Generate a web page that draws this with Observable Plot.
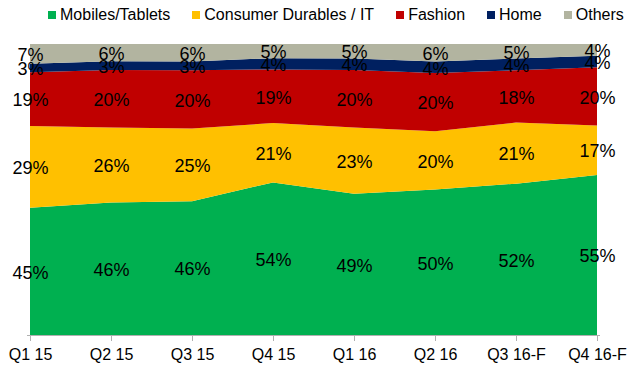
<!DOCTYPE html>
<html>
<head>
<meta charset="utf-8">
<script src="https://cdn.jsdelivr.net/npm/d3@7"></script>
<script src="https://cdn.jsdelivr.net/npm/@observablehq/plot@0.6"></script>
<style>
  body { margin: 0; background: #fff; font-family: "Liberation Sans", Arial, sans-serif; }
  #legend { height: 30px; display: flex; align-items: center; padding-left: 48px; gap: 22px; font-size: 16px; color: #000; white-space: nowrap; }
  #legend .item { display: flex; align-items: center; }
  #legend .sw { width: 8px; height: 8px; margin-right: 4px; }
</style>
</head>
<body>
<div id="legend"></div>
<div id="chart"></div>
<script>
const quarters = ["Q1 15", "Q2 15", "Q3 15", "Q4 15", "Q1 16", "Q2 16", "Q3 16-F", "Q4 16-F"];
const seriesNames = ["Mobiles/Tablets", "Consumer Durables / IT", "Fashion", "Home", "Others"];
const colors = ["#00B050", "#FFC000", "#C00000", "#002060", "#B2B4A0"];
const mobiles = [45, 46, 46, 54, 49, 50, 52, 55];
const durables = [29, 26, 25, 21, 23, 20, 21, 17];
const fashion = [19, 20, 20, 19, 20, 20, 18, 20];
const home = [3, 3, 3, 4, 4, 4, 4, 4];
const others = [7, 6, 6, 5, 5, 6, 5, 4];

const seriesValues = [mobiles, durables, fashion, home, others];
const data = [];
seriesNames.forEach((s, i) => {
  quarters.forEach((q, j) => data.push({ quarter: q, series: s, value: seriesValues[i][j] }));
});

// legend
const legend = document.getElementById("legend");
seriesNames.forEach((s, i) => {
  const item = document.createElement("div");
  item.className = "item";
  const sw = document.createElement("span");
  sw.className = "sw";
  sw.style.background = colors[i];
  const t = document.createElement("span");
  t.textContent = s;
  item.appendChild(sw);
  item.appendChild(t);
  legend.appendChild(item);
});

const chart = Plot.plot({
  width: 635,
  height: 341,
  marginLeft: 27,
  marginRight: 35,
  marginTop: 14,
  marginBottom: 36,
  style: { fontFamily: "'Liberation Sans', Arial, sans-serif", background: "#fff", color: "#000" },
  x: { type: "point", domain: quarters, padding: 0, label: null },
  y: { axis: null },
  color: { domain: seriesNames, range: colors },
  marks: [
    Plot.areaY(data, Plot.stackY({ offset: "normalize", x: "quarter", y: "value", z: "series", fill: "series", order: seriesNames })),
    Plot.text(data, Plot.stackY({ offset: "normalize", x: "quarter", y: "value", z: "series", order: seriesNames, text: d => d.value + "%", fontSize: 18, fill: "#000", dy: 1 })),
    Plot.ruleY([0], { stroke: "#b0b0b0" }),
    Plot.axisX({ tickSize: 6, tickPadding: 7, fontSize: 16, stroke: "#b0b0b0", fill: "#000", label: null })
  ]
});
document.getElementById("chart").appendChild(chart);
</script>
</body>
</html>
